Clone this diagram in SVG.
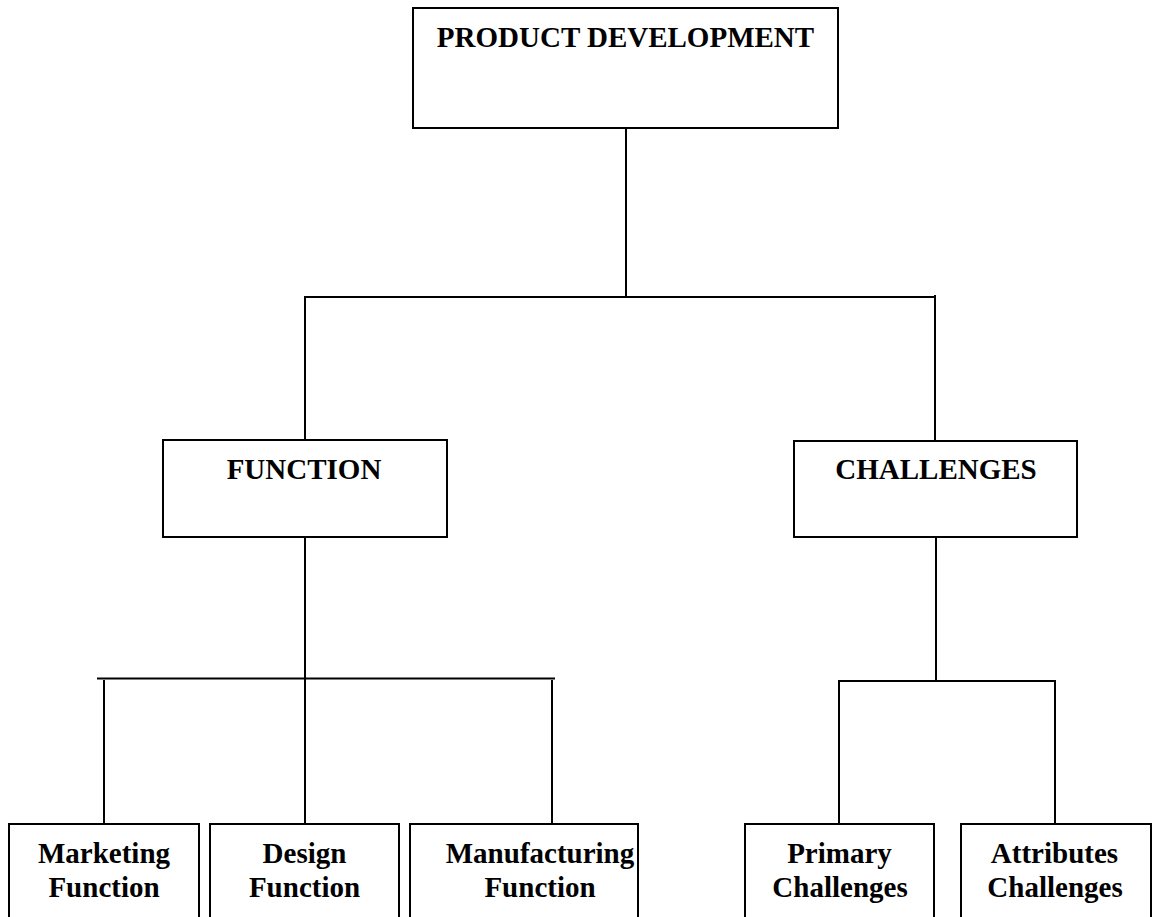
<svg xmlns="http://www.w3.org/2000/svg" width="1153" height="917" viewBox="0 0 1153 917">
<style>
.box{fill:#fff;stroke:#000;stroke-width:2}
.ln{stroke:#000;stroke-width:2;fill:none}
.t{font-family:"Liberation Serif","Times New Roman",serif;font-weight:bold;font-size:29px;fill:#000;text-anchor:middle}
</style>
<rect width="1153" height="917" fill="#fff"/>
<g id="connectors">
<line class="ln" x1="626" y1="128" x2="626" y2="297"/>
<line class="ln" x1="304" y1="297" x2="936" y2="297"/>
<line class="ln" x1="305" y1="297" x2="305" y2="441"/>
<line class="ln" x1="935" y1="295" x2="935" y2="441"/>
<line class="ln" x1="305" y1="537" x2="305" y2="824"/>
<line class="ln" x1="97" y1="678.5" x2="555" y2="678.5"/>
<line class="ln" x1="104" y1="680" x2="104" y2="824"/>
<line class="ln" x1="552" y1="680" x2="552" y2="824"/>
<line class="ln" x1="936" y1="537" x2="936" y2="681"/>
<line class="ln" x1="838" y1="681" x2="1056" y2="681"/>
<line class="ln" x1="839" y1="680" x2="839" y2="824"/>
<line class="ln" x1="1055" y1="680" x2="1055" y2="824"/>
</g>
<g id="product-development">
<rect class="box" x="413" y="8" width="425" height="120"/>
<text class="t" x="625.5" y="47">PRODUCT DEVELOPMENT</text>
</g>
<g id="function">
<rect class="box" x="163" y="440" width="284" height="97"/>
<text class="t" x="304" y="479">FUNCTION</text>
</g>
<g id="challenges">
<rect class="box" x="794" y="441" width="283" height="96"/>
<text class="t" x="936" y="479">CHALLENGES</text>
</g>
<g id="marketing-function">
<rect class="box" x="9" y="824" width="190" height="110"/>
<text class="t" x="104" y="863">Marketing</text>
<text class="t" x="104" y="896.5">Function</text>
</g>
<g id="design-function">
<rect class="box" x="210" y="824" width="189" height="110"/>
<text class="t" x="304.5" y="863">Design</text>
<text class="t" x="304.5" y="896.5">Function</text>
</g>
<g id="manufacturing-function">
<rect class="box" x="410" y="824" width="228" height="110"/>
<text class="t" x="540" y="863">Manufacturing</text>
<text class="t" x="540" y="896.5">Function</text>
</g>
<g id="primary-challenges">
<rect class="box" x="745" y="824" width="189" height="110"/>
<text class="t" x="839.5" y="863">Primary</text>
<text class="t" x="840" y="896.5">Challenges</text>
</g>
<g id="attributes-challenges">
<rect class="box" x="961" y="824" width="190" height="110"/>
<text class="t" x="1054.5" y="863">Attributes</text>
<text class="t" x="1055" y="896.5">Challenges</text>
</g>
</svg>
